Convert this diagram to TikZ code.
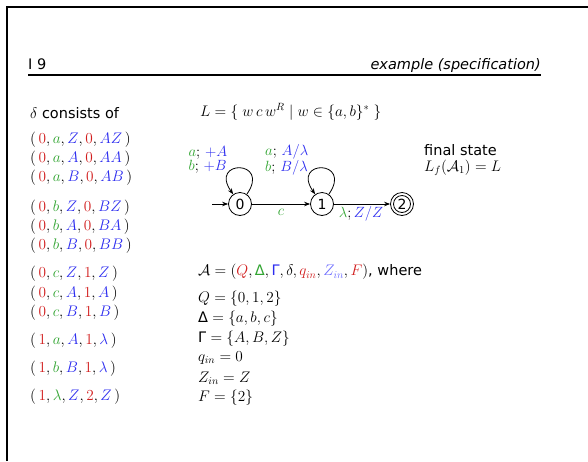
\RequirePackage{fix-cm}
\documentclass[tikz,border=0pt]{standalone}
\usepackage{fontspec}
\setmainfont{DejaVu Sans}
\DeclareSymbolFont{sfdig}{TU}{\rmdefault}{m}{n}
\DeclareMathSymbol{0}{\mathalpha}{sfdig}{`0}
\DeclareMathSymbol{1}{\mathalpha}{sfdig}{`1}
\DeclareMathSymbol{2}{\mathalpha}{sfdig}{`2}
\DeclareMathSizes{14.5}{15.3}{10.5}{8}
\DeclareMathSizes{14}{14.8}{10.5}{8}
\usetikzlibrary{arrows.meta}
\definecolor{myred}{RGB}{210,30,30}
\definecolor{mygreen}{RGB}{50,165,50}
\definecolor{myblue}{RGB}{45,45,240}
\definecolor{mylblue}{RGB}{110,110,255}
\newcommand{\ptup}[5]{$(\,\textcolor{myred}{#1},\textcolor{mygreen}{#2},\textcolor{myblue}{#3},\textcolor{myred}{#4},\textcolor{myblue}{#5}\,)$}
\tikzset{
  txt/.style={anchor=west,inner sep=0pt,font=\fontsize{14.5}{17}\selectfont},
  st/.style={circle,draw,line width=0.8pt,minimum size=23pt,inner sep=0pt,font=\fontsize{14}{16}\selectfont},
  arr/.style={line width=0.8pt,-{Stealth[length=6pt,width=4.5pt]}},
  lbl/.style={inner sep=1.5pt,font=\fontsize{14}{12.5}\selectfont,align=left}
}
\begin{document}
\begin{tikzpicture}[x=1pt,y=1pt]
\useasboundingbox (0,0) rectangle (588,-461);
\fill[white] (0,0) rectangle (588,-461);
% frame
\draw[line width=2pt] (6.5,-461) -- (6.5,-6.5) -- (588,-6.5);
% header
\node[anchor=base west,inner sep=0pt,font=\fontsize{14.5}{17}\selectfont] (hl) at (28,-69) {I 9};
\node[anchor=base east,inner sep=0pt,font=\fontsize{14.5}{17}\itshape] (hr) at (541,-69) {example (specification)};
\draw[line width=1.7pt] (28,-75) -- (541,-75);
% left column
\node[txt] (dc) at (30,-113) {$\delta$ consists of};
\node[txt] (t1) at (30,-140) {\ptup{0}{a}{Z}{0}{AZ}};
\node[txt] (t2) at (30,-159) {\ptup{0}{a}{A}{0}{AA}};
\node[txt] (t3) at (30,-178) {\ptup{0}{a}{B}{0}{AB}};
\node[txt] (t4) at (30,-208) {\ptup{0}{b}{Z}{0}{BZ}};
\node[txt] (t5) at (30,-227) {\ptup{0}{b}{A}{0}{BA}};
\node[txt] (t6) at (30,-246) {\ptup{0}{b}{B}{0}{BB}};
\node[txt] (t7) at (30,-274) {\ptup{0}{c}{Z}{1}{Z}};
\node[txt] (t8) at (30,-294) {\ptup{0}{c}{A}{1}{A}};
\node[txt] (t9) at (30,-313) {\ptup{0}{c}{B}{1}{B}};
\node[txt] (t10) at (30,-341) {\ptup{1}{a}{A}{1}{\lambda}};
\node[txt] (t11) at (30,-369) {\ptup{1}{b}{B}{1}{\lambda}};
\node[txt] (t12) at (30,-397) {\ptup{1}{\lambda}{Z}{2}{Z}};
% language
\node[txt] (L) at (200,-112) {$L=\{\;w\,c\,w^R\mid w\in\{a,b\}^*\;\}$};
% automaton
\node[st] (s0) at (240,-204) {0};
\node[st] (s1) at (322,-204) {1};
\node[st] (s2) at (402,-204) {2};
\node[circle,draw,line width=0.8pt,minimum size=17pt,inner sep=0pt] (s2in) at (s2) {};
\coordinate (init) at (212,-204);
\draw[arr] (init) -- (s0);
\draw[arr] (s0) -- node[lbl,below,yshift=-3pt] {$\textcolor{mygreen}{c}$} (s1);
\draw[arr] (s1) -- node[lbl,below,xshift=-1pt] {$\textcolor{mygreen}{\lambda};\textcolor{myblue}{Z/Z}$} (s2);
\draw[arr] (s0) to[out=55,in=125,looseness=8] (s0);
\draw[arr] (s1) to[out=55,in=125,looseness=8] (s1);
\node[lbl,anchor=east] (l0) at (229,-160) {$\textcolor{mygreen}{a};\,\textcolor{myblue}{+A}$\\$\textcolor{mygreen}{b};\,\textcolor{myblue}{+B}$};
\node[lbl,anchor=east] (l1) at (310,-160) {$\textcolor{mygreen}{a};\,\textcolor{myblue}{A/\lambda}$\\$\textcolor{mygreen}{b};\,\textcolor{myblue}{B/\lambda}$};
\node[txt,align=left,font=\fontsize{14.5}{16.5}\selectfont] (fs) at (424,-160) {final state\\$L_f(\mathcal{A}_1)=L$};
% definition
\node[txt] (A) at (198,-272) {$\mathcal{A}=(\textcolor{myred}{Q},\textcolor{mygreen}{\mbox{Δ}},\textcolor{myblue}{\mbox{Γ}},\delta,\textcolor{myred}{q_{in}},\textcolor{mylblue}{Z_{in}},\textcolor{myred}{F})$, where};
\node[txt] (dQ) at (198,-299) {$Q=\{0,1,2\}$};
\node[txt] (dD) at (198,-319) {$\mbox{Δ}=\{a,b,c\}$};
\node[txt] (dG) at (198,-339) {$\mbox{Γ}=\{A,B,Z\}$};
\node[txt] (dq) at (198,-358) {$q_{in}=0$};
\node[txt] (dZ) at (198,-378) {$Z_{in}=Z$};
\node[txt] (dF) at (198,-398) {$F=\{2\}$};
\end{tikzpicture}
\end{document}
